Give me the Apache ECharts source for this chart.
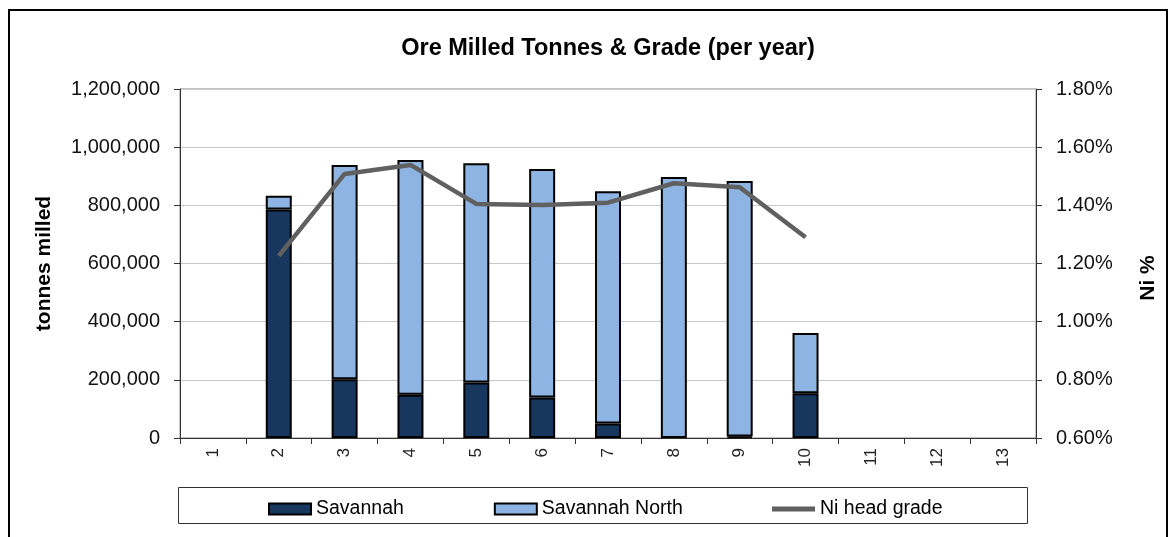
<!DOCTYPE html>
<html>
<head>
<meta charset="utf-8">
<script src="https://cdn.jsdelivr.net/npm/echarts@6/dist/echarts.min.js"></script>
<style>
  html, body { margin: 0; padding: 0; background: #fff; }
  #main { width: 1176px; height: 537px; }
</style>
</head>
<body>
<div id="main"></div>
<script>
// categories (years)
var years = ['1', '2', '3', '4', '5', '6', '7', '8', '9', '10', '11', '12', '13'];
// tonnes milled
var savannah = ['-', 786000, 202000, 149000, 191000, 139000, 50000, '-', 5000, 154000, '-', '-', '-'];
var savannahNorth = ['-', 47000, 737000, 807000, 754000, 786000, 798000, 897000, 879000, 207000, '-', '-', '-'];
// Ni head grade, %
var niGrade = ['-', 1.226, 1.508, 1.539, 1.405, 1.401, 1.409, 1.476, 1.462, 1.29, '-', '-', '-'];

var FONT = 'Liberation Sans, Arial, sans-serif';

function fmtThousands(v) {
    return String(v).replace(/\B(?=(\d{3})+(?!\d))/g, ',');
}

var myChart = echarts.init(document.getElementById('main'));

var option = {
    backgroundColor: '#fff',
    animation: false,
    textStyle: { fontFamily: FONT },
    title: {
        text: 'Ore Milled Tonnes & Grade (per year)',
        left: 603,
        textAlign: 'center',
        top: 32,
        textStyle: { fontFamily: FONT, fontSize: 23.5, fontWeight: 'bold', color: '#000' }
    },
    graphic: [
        {   // outer frame
            type: 'rect',
            shape: { x: 9, y: 10, width: 1158, height: 540 },
            style: { fill: 'none', stroke: '#000', lineWidth: 2 },
            silent: true
        },
        {   // legend box
            type: 'rect',
            shape: { x: 178.5, y: 487.5, width: 849, height: 36 },
            style: { fill: 'none', stroke: '#333', lineWidth: 1 },
            silent: true
        },
        {   // right axis title
            type: 'text',
            x: 1148,
            y: 278,
            rotation: Math.PI / 2,
            style: {
                text: 'Ni %',
                fontFamily: FONT, fontSize: 21, fontWeight: 'bold', fill: '#000',
                textAlign: 'center', textVerticalAlign: 'middle'
            },
            silent: true
        }
    ],
    legend: [
        {
            left: 268,
            top: 499,
            padding: 0,
            icon: 'rect',
            itemWidth: 42,
            itemHeight: 11,
            itemGap: 90,
            textStyle: { fontFamily: FONT, fontSize: 19.5, color: '#000' },
            data: ['Savannah', 'Savannah North']
        },
        {
            left: 772,
            top: 499,
            padding: 0,
            icon: 'rect',
            itemWidth: 43,
            itemHeight: 5,
            itemStyle: { color: '#606060', borderWidth: 0 },
            textStyle: { fontFamily: FONT, fontSize: 19.5, color: '#000' },
            data: ['Ni head grade']
        }
    ],
    grid: {
        left: 180,
        right: 140,
        top: 89,
        bottom: 99,
        show: true,
        borderColor: '#888',
        borderWidth: 1
    },
    xAxis: {
        type: 'category',
        data: years,
        axisLine: { lineStyle: { color: '#333', width: 1 } },
        axisTick: { show: true, length: 6, lineStyle: { color: '#333' } },
        axisLabel: { rotate: 90, fontSize: 17, color: '#222', margin: 10, fontFamily: FONT }
    },
    yAxis: [
        {
            type: 'value',
            min: 0,
            max: 1200000,
            interval: 200000,
            name: 'tonnes milled',
            nameLocation: 'middle',
            nameRotate: 90,
            nameGap: 125,
            nameTextStyle: { fontFamily: FONT, fontSize: 21, fontWeight: 'bold', color: '#000' },
            axisLine: { show: true, lineStyle: { color: '#333', width: 1 } },
            axisTick: { show: true, length: 6, lineStyle: { color: '#333' } },
            axisLabel: {
                fontSize: 20, color: '#111', margin: 20, fontFamily: FONT,
                formatter: function (v) { return fmtThousands(v); }
            },
            splitLine: { show: true, lineStyle: { color: '#c8c8c8', width: 1 } }
        },
        {
            type: 'value',
            min: 0.6,
            max: 1.8,
            interval: 0.2,
            position: 'right',
            axisLine: { show: true, lineStyle: { color: '#333', width: 1 } },
            axisTick: { show: true, length: 6, lineStyle: { color: '#333' } },
            axisLabel: {
                fontSize: 20, color: '#111', margin: 20, fontFamily: FONT,
                formatter: function (v) { return v.toFixed(2) + '%'; }
            },
            splitLine: { show: false }
        }
    ],
    series: [
        {
            name: 'Savannah',
            type: 'bar',
            stack: 'ore',
            barWidth: 26,
            data: savannah,
            itemStyle: { color: '#17375E', borderColor: '#000', borderWidth: 2 }
        },
        {
            name: 'Savannah North',
            type: 'bar',
            stack: 'ore',
            barWidth: 26,
            data: savannahNorth,
            itemStyle: { color: '#8EB4E3', borderColor: '#000', borderWidth: 2 }
        },
        {
            name: 'Ni head grade',
            type: 'line',
            yAxisIndex: 1,
            data: niGrade,
            symbol: 'none',
            showSymbol: false,
            lineStyle: { color: '#606060', width: 4.5 },
            itemStyle: { color: '#606060' }
        }
    ]
};

myChart.setOption(option);
</script>
</body>
</html>
